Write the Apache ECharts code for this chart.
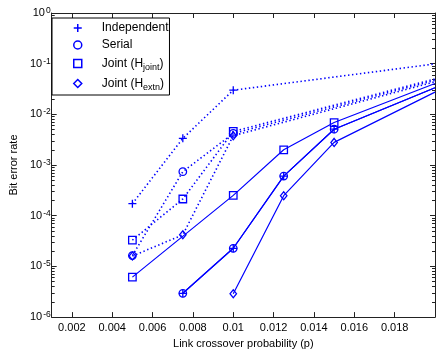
<!DOCTYPE html>
<html>
<head>
<meta charset="utf-8">
<script src="https://cdn.jsdelivr.net/npm/echarts@6/dist/echarts.min.js"></script>
<style>
html,body{margin:0;padding:0;background:#fff;}
#chart{width:436px;height:354px;}
</style>
</head>
<body>
<div id="chart"></div>
<script>
// ---- data ----
const xTicks = [0.002, 0.004, 0.006, 0.008, 0.01, 0.012, 0.014, 0.016, 0.018];
const xTickLabels = ['0.002', '0.004', '0.006', '0.008', '0.01', '0.012', '0.014', '0.016', '0.018'];
const yTicks = [1e-6, 1e-5, 1e-4, 1e-3, 1e-2, 1e-1, 1];
const yTickExp = ['-6', '-5', '-4', '-3', '-2', '-1', '0'];

const pDotted = [0.005, 0.0075, 0.01, 0.02];
const indepDotted  = [1.73e-4, 3.36e-3, 3.0e-2, 0.099];
const serialDotted = [1.64e-5, 7.4e-4, 4.2e-3, 0.047];
const jointDotted  = [3.3e-5, 2.14e-4, 4.6e-3, 0.050];
const extnDotted   = [1.6e-5, 4.2e-5, 3.8e-3, 0.044];

const pIndepSolid = [0.0075, 0.01, 0.0125, 0.015, 0.02];
const indepSolid  = [2.95e-6, 2.28e-5, 6.05e-4, 5.1e-3, 0.0335];
const serialSolid = [2.95e-6, 2.28e-5, 6.05e-4, 5.1e-3, 0.0335];
const pJointSolid = [0.005, 0.01, 0.0125, 0.015, 0.02];
const jointSolid  = [6.15e-6, 2.52e-4, 2.0e-3, 6.9e-3, 0.0407];
const pExtnSolid  = [0.01, 0.0125, 0.015, 0.02];
const extnSolid   = [2.9e-6, 2.49e-4, 2.8e-3, 0.0275];

const names = ['Independent', 'Serial', 'Joint (H{sub|joint})', 'Joint (H{sub|extn})'];

// ---- style ----
const BLUE = '#0000ff';
const FONT = 'Liberation Sans';
const SYM = {
  plus: 'path://M5,0L5,10M0,5L10,5',
  circle: 'path://M10,5A5,5,0,1,1,0,5A5,5,0,1,1,10,5Z',
  square: 'path://M0,0L10,0L10,10L0,10Z',
  diamond: 'path://M5,0L10,5L5,10L0,5Z'
};
const symSize = {plus: 8, circle: 7.5, square: 7.5, diamond: [6.5, 8]};
const symKeys = ['plus', 'circle', 'square', 'diamond'];

function pts(xs, ys) {
  return xs.map((x, i) => {
    const item = {value: [x, ys[i]]};
    if (x >= 0.02) item.symbol = 'none';
    return item;
  });
}
function mk(name, xs, ys, sym, dotted) {
  return {
    name: name,
    type: 'line',
    xAxisIndex: 0,
    yAxisIndex: 0,
    data: pts(xs, ys),
    symbol: SYM[sym],
    symbolSize: symSize[sym],
    symbolKeepAspect: false,
    showAllSymbol: true,
    clip: true,
    lineStyle: dotted
      ? {color: BLUE, width: 1.6, type: [1.4, 2.6]}
      : {color: BLUE, width: 1.2, type: 'solid'},
    itemStyle: {color: 'rgba(0,0,0,0)', borderColor: BLUE, borderWidth: 1.3},
    emphasis: {disabled: true},
    animation: false,
    z: dotted ? 2 : 3
  };
}

const series = [
  mk(names[0], pDotted, indepDotted, 'plus', true),
  mk(names[1], pDotted, serialDotted, 'circle', true),
  mk(names[2], pDotted, jointDotted, 'square', true),
  mk(names[3], pDotted, extnDotted, 'diamond', true),
  mk('s_indep', pIndepSolid, indepSolid, 'plus', false),
  mk('s_serial', pIndepSolid, serialSolid, 'circle', false),
  mk('s_joint', pJointSolid, jointSolid, 'square', false),
  mk('s_extn', pExtnSolid, extnSolid, 'diamond', false)
];

const minorY = [];
yTicks.slice(0, -1).forEach(d => { for (let k = 2; k <= 9; k++) minorY.push(d * k); });

const axisLineStyle = {show: true, lineStyle: {color: '#222', width: 1}};
function xAx(pos, labels) {
  return {
    type: 'value', position: pos, min: 0.001, max: 0.02,
    axisLine: axisLineStyle,
    axisTick: {show: true, inside: true, length: 5, customValues: xTicks, lineStyle: {color: '#222'}},
    axisLabel: labels ? {
      show: true, customValues: xTicks, margin: 5,
      formatter: v => { const i = xTicks.findIndex(t => Math.abs(t - v) < 1e-9); return i >= 0 ? xTickLabels[i] : ''; },
      color: '#000', fontSize: 11, fontFamily: FONT
    } : {show: false},
    splitLine: {show: false},
    name: labels ? 'Link crossover probability (p)' : '',
    nameLocation: 'middle', nameGap: 18,
    nameTextStyle: {color: '#000', fontSize: 11, fontFamily: FONT}
  };
}
function yAx(pos, minor, labels) {
  return {
    type: 'log', logBase: 10, position: pos, min: 1e-6, max: 1,
    axisLine: minor ? {show: false} : axisLineStyle,
    axisTick: {show: true, inside: true, length: minor ? 3 : 5, customValues: minor ? minorY : yTicks, lineStyle: {color: '#222'}},
    axisLabel: labels ? {
      show: true, customValues: yTicks, margin: 1,
      formatter: v => { const i = yTicks.findIndex(t => Math.abs(Math.log10(t) - Math.log10(v)) < 1e-6); return '{b|10}{s|' + (i >= 0 ? yTickExp[i] : '') + '}'; },
      rich: {
        b: {fontSize: 11, fontFamily: FONT, color: '#000', lineHeight: 14},
        s: {fontSize: 8.5, fontFamily: FONT, color: '#000', lineHeight: 9, verticalAlign: 'top', padding: [0, 0, 0, 1]}
      }
    } : {show: false},
    splitLine: {show: false},
    name: labels ? 'Bit error rate' : '',
    nameLocation: 'middle', nameGap: 30,
    nameTextStyle: {color: '#000', fontSize: 11, fontFamily: FONT}
  };
}

const chart = echarts.init(document.getElementById('chart'), null, {renderer: 'canvas'});
chart.setOption({
  animation: false,
  backgroundColor: '#fff',
  grid: {left: 46, top: 13, width: 389, height: 306, containLabel: false},
  xAxis: [xAx('bottom', true), xAx('top', false)],
  yAxis: [yAx('left', false, true), yAx('left', true, false), yAx('right', false, false), yAx('right', true, false)],
  legend: {
    left: 52, top: 18,
    orient: 'vertical',
    itemWidth: 8, itemHeight: 8, itemGap: 3,
    symbolKeepAspect: true,
    padding: [3, 1, 3, 21],
    backgroundColor: '#fff',
    borderColor: '#000', borderWidth: 1,
    selectedMode: false,
    data: names.map((n, i) => ({
      name: n,
      icon: SYM[symKeys[i]],
      itemStyle: {color: 'rgba(0,0,0,0)', borderColor: BLUE, borderWidth: 1.5}
    })),
    formatter: n => n,
    textStyle: {
      color: '#000', fontSize: 12, fontFamily: FONT, lineHeight: 14,
      padding: [0, 0, 0, 15],
      rich: {sub: {fontSize: 9, fontFamily: FONT, color: '#000', verticalAlign: 'bottom', lineHeight: 17}}
    }
  },
  series: series
});
</script>
</body>
</html>
